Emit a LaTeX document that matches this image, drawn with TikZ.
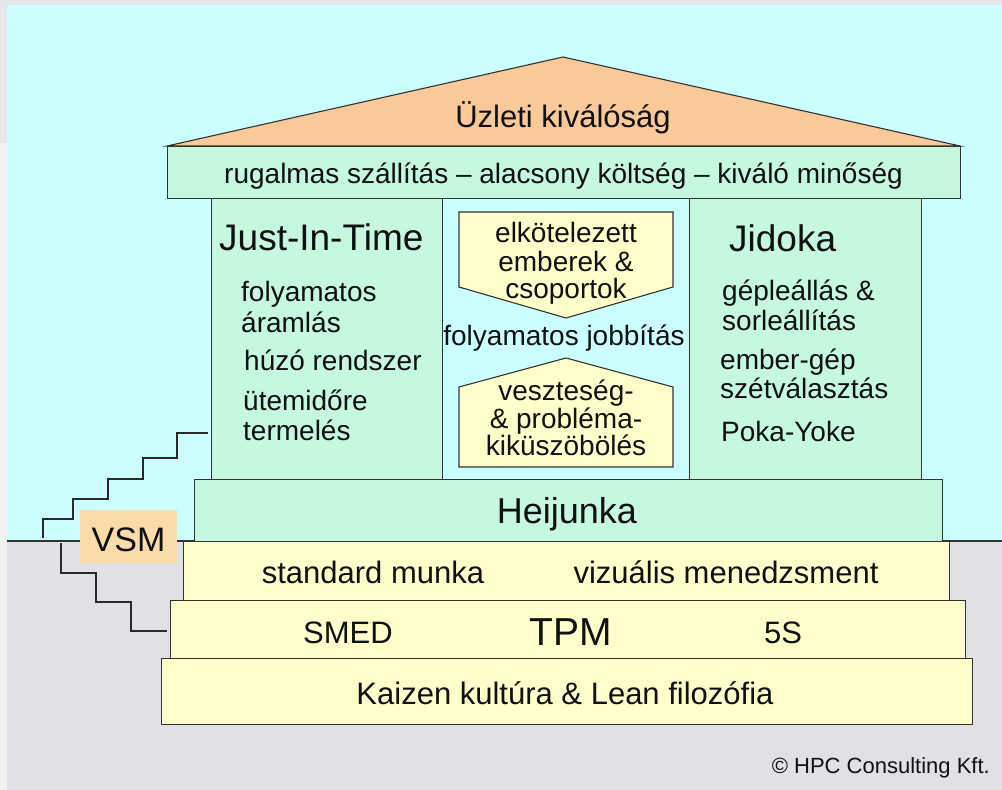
\documentclass[tikz,border=0pt]{standalone}
\usepackage{fontspec}
\setmainfont{Liberation Sans}
\definecolor{framec}{HTML}{E4E6E8}
\definecolor{framel}{HTML}{F3F3F4}
\definecolor{sky}{HTML}{CCFFFF}
\definecolor{groundc}{HTML}{E2DFE5}
\definecolor{roofc}{HTML}{FAC99A}
\definecolor{mint}{HTML}{C6F8DF}
\definecolor{cream}{HTML}{FFFFCC}
\definecolor{peach}{HTML}{FADCAA}
\definecolor{edge}{HTML}{333333}
\definecolor{ink}{HTML}{111111}
\tikzset{
  box/.style={draw=edge, line width=1.1pt, inner sep=0pt, anchor=north west},
  txt/.style={inner sep=0pt, anchor=base, text=ink},
  ltxt/.style={inner sep=0pt, anchor=base west, text=ink},
  stair/.style={draw=ink!90, line width=2.8pt, line cap=butt, line join=miter},
  fA/.style={font=\fontsize{28}{30}\selectfont},
  fB/.style={font=\fontsize{31}{33}\selectfont},
  fC/.style={font=\fontsize{37}{40}\selectfont},
}
\begin{document}
\begin{tikzpicture}[x=1pt,y=-1pt]
\useasboundingbox (0,0) rectangle (1002,790);
% background
\fill[framec] (0,0) rectangle (1002,790);
\fill[framel] (0,143) rectangle (7,790);
\fill[sky] (7,5) rectangle (1002,541);
\fill[groundc] (7,541) rectangle (1002,790);
\draw[edge, line width=1.1pt] (7,541) -- (1002,541);
% roof
\draw[edge, line width=1.1pt, fill=roofc, line join=miter] (167,146) -- (563,57) -- (960,146) -- cycle;
\node[txt, fB] (roof) at (563,127) {Üzleti kiválóság};
% beam
\node[box, fill=mint, minimum width=793pt, minimum height=52pt] (beam) at (167,146) {};
\node[txt, fA] (beamtxt) at (563.5,183) {rugalmas szállítás – alacsony költség – kiváló minőség};
% pillars
\node[box, fill=mint, minimum width=231pt, minimum height=281pt] (jit) at (211,198) {};
\node[box, fill=mint, minimum width=232pt, minimum height=281pt] (jid) at (689,198) {};
% left pillar texts
\node[ltxt, fC] (jitt) at (219,250) {Just-In-Time};
\node[ltxt, fA] (j1) at (241,301) {folyamatos};
\node[ltxt, fA] (j2) at (241,332) {áramlás};
\node[ltxt, fA] (j3) at (244,370) {húzó rendszer};
\node[ltxt, fA] (j4) at (243,410) {ütemidőre};
\node[ltxt, fA] (j5) at (243,440) {termelés};
% right pillar texts
\node[ltxt, fC] (jidt) at (729,251) {Jidoka};
\node[ltxt, fA] (k1) at (722,300) {gépleállás \&};
\node[ltxt, fA] (k2) at (722,330) {sorleállítás};
\node[ltxt, fA] (k3) at (720,369) {ember-gép};
\node[ltxt, fA] (k4) at (720,398) {szétválasztás};
\node[ltxt, fA] (k5) at (721,441) {Poka-Yoke};
% middle pentagons
\draw[edge, line width=1.1pt, fill=cream, line join=miter] (459,212) -- (673,212) -- (673,287) -- (566,318) -- (459,287) -- cycle;
\draw[edge, line width=1.1pt, fill=cream, line join=miter] (566,358) -- (673,387) -- (673,467) -- (459,467) -- (459,387) -- cycle;
\node[txt, fA] (p1) at (566,242) {elkötelezett};
\node[txt, fA] (p2) at (566,271) {emberek \&};
\node[txt, fA] (p3) at (566,298) {csoportok};
\node[txt, fA] (fj) at (564,345) {folyamatos jobbítás};
\node[txt, fA] (q1) at (566,400) {veszteség-};
\node[txt, fA] (q2) at (566,428) {\& probléma-};
\node[txt, fA] (q3) at (566,455) {kiküszöbölés};
% foundation rows
\node[box, fill=mint, minimum width=748pt, minimum height=62pt] (hei) at (194,479) {};
\node[txt, font=\fontsize{36}{38}\selectfont] (heit) at (567,523) {Heijunka};
\node[box, fill=cream, minimum width=766pt, minimum height=59pt] (std) at (183,541) {};
\node[txt, fB] (stdt) at (373,583) {standard munka};
\node[txt, fB] (vizt) at (726,583) {vizuális menedzsment};
\node[box, fill=cream, minimum width=795pt, minimum height=58pt] (tpm) at (170,600) {};
\node[txt, fB] (smed) at (348,643) {SMED};
\node[txt, font=\fontsize{39}{41}\selectfont] (tpmt) at (571,645) {TPM};
\node[txt, fB] (fives) at (783,643) {5S};
\node[box, fill=cream, minimum width=811pt, minimum height=66pt] (kai) at (161,658) {};
\node[txt, fB] (kait) at (565,704) {Kaizen kultúra \& Lean filozófia};
% VSM
\node[fill=peach, inner sep=0pt, minimum width=97pt, minimum height=53pt, anchor=north west] (vsm) at (80,510) {};
\node[txt, font=\fontsize{34}{36}\selectfont] (vsmt) at (128.5,551) {VSM};
% stairs
\coordinate (s1) at (43,538);
\coordinate (s2) at (61,543);
\draw[stair] (s1) -- (43,519) -- (73,519) -- (73,499) -- (108,499) -- (108,479) -- (143,479) -- (143,458) -- (177,458) -- (177,433) -- ([xshift=-3pt]jit.west |- 0,433);
\draw[stair] (s2) -- (61,573) -- (96,573) -- (96,602) -- (131,602) -- (131,631) -- ([xshift=-3pt]tpm.west |- 0,631);
% copyright
\node[inner sep=0pt, anchor=base east, text=ink, font=\fontsize{22}{24}\selectfont] (copy) at (990,773) {© HPC Consulting Kft.};
\end{tikzpicture}
\end{document}
